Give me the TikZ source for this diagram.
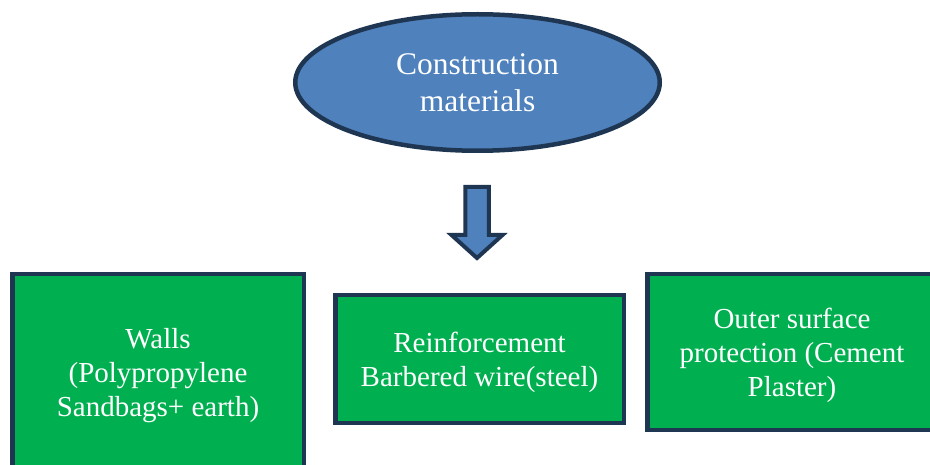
\documentclass[tikz,border=0pt]{standalone}
\usepackage{fontspec}
\setmainfont{Liberation Serif}
\usetikzlibrary{shapes.geometric}
\definecolor{matblue}{HTML}{4F81BD}
\definecolor{matgreen}{HTML}{00B050}
\definecolor{matnavy}{HTML}{1F3652}

\begin{document}
\begin{tikzpicture}[x=1pt, y=-1pt,
  every node/.style={text=white, align=center},
  top/.style={draw=matnavy, fill=matblue, ellipse, line width=4.5pt, inner sep=0pt,
              minimum width=364.5pt, minimum height=136.5pt,
              font=\fontsize{31.5}{37}\selectfont, text depth=0pt},
  part/.style={draw=matnavy, fill=matgreen, rectangle, line width=4.5pt, inner sep=0pt,
               font=\fontsize{29}{34}\selectfont, text depth=-2pt},
  blk/.style={draw=matnavy, fill=matblue, line width=4pt}]

\useasboundingbox (0,0) rectangle (930,465);
\clip (0,0) rectangle (930,465);

%% --- top level ---
\node[top] (MAT) at (477.5,82.5) {Construction\\materials};

%% --- block arrow down ---
\draw[blk] (465.25,187) -- (488.75,187) -- (488.75,235) -- (502.5,235)
  -- (477,258) -- (451.5,235) -- (465.25,235) -- cycle;

%% --- material groups ---
\node[part, minimum width=291.5pt, minimum height=195.5pt] (WAL) at (158,372)
  {Walls\\(Polypropylene\\Sandbags+ earth)};
\node[part, minimum width=288.5pt, minimum height=127.5pt] (REI) at (479.5,359)
  {Reinforcement\\Barbered wire(steel)};
\node[part, minimum width=289.5pt, minimum height=155.5pt] (OUT) at (792,352)
  {Outer surface\\protection (Cement\\Plaster)};
\end{tikzpicture}
\end{document}
